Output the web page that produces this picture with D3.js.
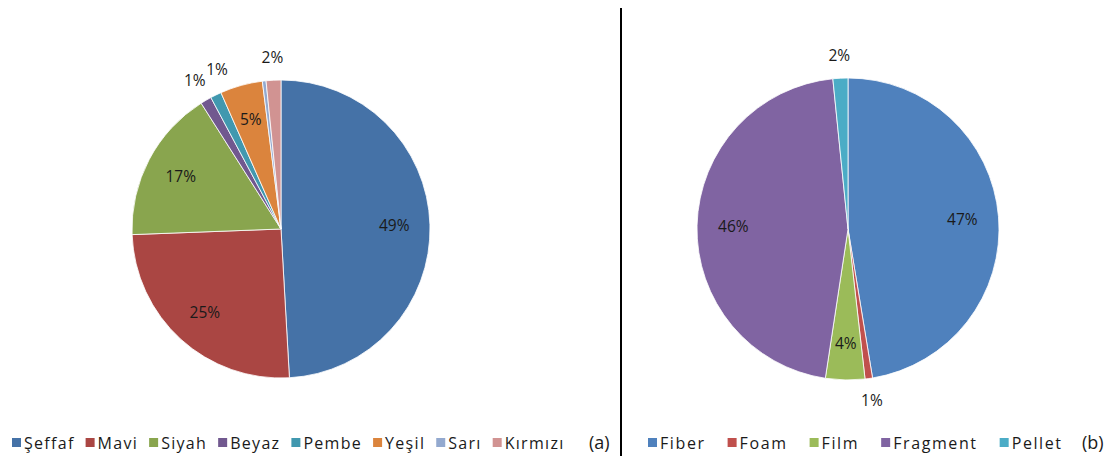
<!DOCTYPE html>
<html>
<head>
<meta charset="utf-8">
<script src="https://cdn.jsdelivr.net/npm/d3@7"></script>
<style>
  body { margin: 0; background: #fff; }
  svg { font-family: "Open Sans", Lato, sans-serif; }
</style>
</head>
<body>
<svg id="chart"></svg>
<script>
const width = 1115;
const height = 456;

// left pie (colours)
const colorNames = ["Şeffaf", "Mavi", "Siyah", "Beyaz", "Pembe", "Yeşil", "Sarı", "Kırmızı"];
const colorValues = [49.1, 25.3, 16.6, 1.2, 1.2, 4.6, 0.4, 1.6];
const colorFills = ["#4572A7", "#AA4643", "#89A54E", "#71588F", "#4198AF", "#DB843D", "#93A9CF", "#D19392"];

// right pie (shapes)
const shapeNames = ["Fiber", "Foam", "Film", "Fragment", "Pellet"];
const shapeValues = [47.4, 0.8, 4.2, 46.0, 1.6];
const shapeFills = ["#4F81BD", "#C0504D", "#9BBB59", "#8064A2", "#4BACC6"];

const svg = d3.select("#chart")
    .attr("width", width)
    .attr("height", height);

svg.append("line")
    .attr("x1", 621).attr("x2", 621)
    .attr("y1", 8).attr("y2", height)
    .attr("stroke", "#000")
    .attr("stroke-width", 2);

function overlaps(a, b) {
    return a.x < b.x + b.width && b.x < a.x + a.width &&
        a.y < b.y + b.height && b.y < a.y + a.height;
}

function drawPie({ names, values, fills, cx, cy, r, legendX, legendGap, spacing, tag, tagX }) {
    const pie = d3.pie().sort(null).value(d => d)(values);
    const total = d3.sum(values);
    const arc = d3.arc().innerRadius(0).outerRadius(r);

    const g = svg.append("g").attr("transform", `translate(${cx},${cy})`);

    g.selectAll("path")
        .data(pie)
        .enter()
        .append("path")
        .attr("d", arc)
        .attr("fill", (d, i) => fills[i])
        .attr("stroke", "#fff")
        .attr("stroke-width", 0.8);

    // labels: big slices inside, small ones outside, nudged apart if they collide
    const placed = [];
    pie.filter(d => Math.round(d.value / total * 100) > 0).forEach(d => {
        const pct = d.value / total * 100;
        const outside = pct < 3;
        const k = outside ? 1.15 : 0.76;
        let a = (d.startAngle + d.endAngle) / 2;
        const t = g.append("text")
            .attr("text-anchor", "middle")
            .attr("dy", "0.35em")
            .attr("font-size", 15.5)
            .attr("fill", "#1a1a1a")
            .text(Math.round(pct) + "%");
        const place = () => t.attr("x", Math.sin(a) * r * k).attr("y", -Math.cos(a) * r * k);
        place();
        let guard = 0;
        while (outside && placed.some(b => overlaps(t.node().getBBox(), b)) && guard++ < 60) {
            a += 0.01;
            place();
        }
        placed.push(t.node().getBBox());
    });

    // legend
    const lg = svg.append("g").attr("transform", `translate(${legendX},443)`);
    let x = 0;
    names.forEach((n, i) => {
        lg.append("rect")
            .attr("x", x).attr("y", -5)
            .attr("width", 9).attr("height", 9)
            .attr("fill", fills[i]);
        const t = lg.append("text")
            .attr("x", x + 12)
            .attr("dy", "0.35em")
            .attr("font-size", 16)
            .attr("letter-spacing", spacing)
            .attr("fill", "#1a1a1a")
            .text(n);
        x += 12 + t.node().getComputedTextLength() + legendGap;
    });

    svg.append("text")
        .attr("x", tagX)
        .attr("y", 443)
        .attr("dy", "0.35em")
        .attr("font-size", 18)
        .attr("fill", "#1a1a1a")
        .text(tag);
}

drawPie({
    names: colorNames, values: colorValues, fills: colorFills,
    cx: 281, cy: 229, r: 149,
    legendX: 12, legendGap: 11, spacing: 1.3, tag: "(a)", tagX: 589
});

drawPie({
    names: shapeNames, values: shapeValues, fills: shapeFills,
    cx: 848, cy: 229, r: 151,
    legendX: 648, legendGap: 22, spacing: 1.6, tag: "(b)", tagX: 1082
});
</script>
</body>
</html>
